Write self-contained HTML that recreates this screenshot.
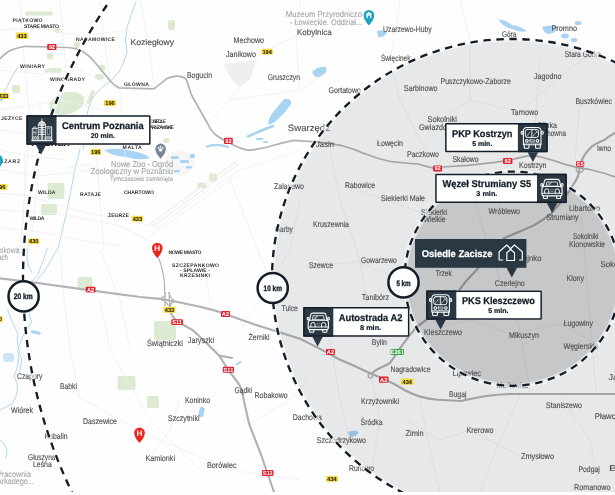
<!DOCTYPE html>
<html lang="pl"><head><meta charset="utf-8"><title>Mapa</title>
<style>html,body{margin:0;padding:0;background:#fff}body{width:615px;height:495px;overflow:hidden;font-family:"Liberation Sans",sans-serif}svg{display:block;will-change:transform;transform:translateZ(0)}text{text-rendering:geometricPrecision}text{font-family:"Liberation Sans",sans-serif}</style>
</head><body>
<svg width="615" height="495" viewBox="0 0 615 495">
<rect width="615" height="495" fill="#fefefe"/>
<g fill="#dcead1">
<rect x="47.5" y="183" width="17" height="16" rx="2"/>
<rect x="41" y="204" width="16" height="11" rx="2"/>
<rect x="77.5" y="277" width="15" height="12" rx="2"/>
<rect x="154" y="321" width="22" height="19" rx="2"/>
<rect x="117.5" y="376" width="18" height="14" rx="2"/>
<rect x="168" y="20" width="7" height="10" rx="2"/>
<rect x="209" y="173.6" width="8" height="7.8" rx="2"/>
<rect x="197.3" y="182.8" width="9.2" height="5.2" rx="2"/>
<rect x="163" y="138" width="6.5" height="5" rx="2"/>
<rect x="94.8" y="74" width="9" height="5.4" rx="2"/>
<rect x="98.4" y="65" width="7" height="5.4" rx="2"/>
<rect x="25" y="11.5" width="28" height="4" rx="2"/>
<rect x="55" y="27" width="5" height="6" rx="2"/>
<rect x="47" y="53" width="6" height="6.5" rx="2"/>
<rect x="74" y="42" width="6" height="6" rx="2"/>
<rect x="50" y="68" width="12" height="5" rx="2"/>
<rect x="12" y="85" width="8" height="8" rx="2"/>
<rect x="147" y="396" width="12" height="12" rx="2"/>
<path d="M49.2 102.6 L59 93.7 Q67 91 75.1 91.9 Q81 93 84 97.2 Q85 102 82.3 106.2 Q78 111 71.5 113.3 Q65 115.5 59 115 Q53 114 50 111.5Z"/>
<path d="M86 103 L92 90 L95 91 L90 104.5Z"/><path d="M44.7 70 Q52 66.5 60.8 70.5 L60 73 Q52 69.5 45 73Z"/>
</g>
<polygon points="223,64 256,60 250,80 240,87 232,80" fill="#efefef"/>
<path d="M166 158 Q170 150 182 150 Q194 152 195 162 Q193 174 180 176 Q168 174 166 158Z" fill="#f5f5f5"/>
<path d="M150 224 L237 160.8 M152 227 L240 163" fill="none" stroke="#e9e9e9" stroke-width="1"/>
<g fill="#a9d3f2">
<path d="M104 150 Q118 147 132 151 Q145 153 150 158 Q140 161 126 157 Q112 156 104 150Z"/>
<path d="M284 99 Q292 98 291 104 Q286 112 279 118 Q273 125 268 124 Q269 116 275 110 Q280 104 284 99Z"/>
<path d="M498 19 Q506 20 512 25 Q520 26 527 31 Q520 33 512 29 Q503 27 498 19Z"/>
<path d="M542 27 Q550 24 558 27 Q556 33 549 34 Q544 34 542 27Z"/>
<ellipse cx="565" cy="36" rx="4" ry="2.5"/><ellipse cx="574" cy="40" rx="3.5" ry="2"/><ellipse cx="578" cy="23" rx="3.5" ry="2"/>
<path d="M377 31 Q383 29 387 33 Q384 38 378 37Z"/>
<path d="M312 72 Q318 66 326 67 Q328 72 322 76 Q315 80 312 72Z"/>
<rect x="199" y="407" width="5" height="10" rx="1.5" transform="rotate(12 201 412)"/>
<rect x="31" y="331" width="10" height="3" rx="1.5" transform="rotate(12 36 332)"/><rect x="3" y="353" width="11" height="9" rx="3" fill-opacity="0.6"/>
<path d="M347 433 Q352 429 359 432 Q357 437 350 437Z"/>
<path d="M235 365 Q238 361 241.7 361 Q240 365.5 235 365Z"/>
<path d="M273 126 Q262 130 248 136.5" fill="none" stroke="#a9d3f2" stroke-width="2.6" stroke-linecap="round"/><path d="M207 146.5 Q216 143 228 147" fill="none" stroke="#a9d3f2" stroke-width="2.2" stroke-linecap="round"/>
<rect x="171" y="156" width="8" height="3" rx="1.3"/>
<rect x="180" y="160" width="9" height="3" rx="1.3"/>
<rect x="186" y="166" width="6" height="2.5" rx="1.3"/>
<rect x="174" y="170" width="6" height="2.5" rx="1.3"/>
<rect x="190" y="154" width="5" height="4" rx="1.3"/>
<rect x="256" y="138" width="7" height="2" rx="1.3"/>
<rect x="263" y="141" width="5" height="2" rx="1.3"/>
<rect x="0" y="95" width="3" height="6" rx="1.3"/>
</g>
<g fill="none" stroke="#a9d3f2" stroke-width="0.9" stroke-linecap="round">
<path d="M136 2 Q131 14 127 28 Q124 40 127 52 Q124 64 119 72 Q114 78 110 81 Q100 88 93 97 Q88 106 87 115 L85 130 L83.3 149"/>
<path d="M80 149 Q74 170 70 195 Q64 225 58 248 Q50 262 44 272 Q34 282 30 296 Q26 310 32 322 Q22 334 18 350 Q20 364 14 376 Q22 390 12 404 L0 410"/>
<path d="M0 440 Q10 448 6 458"/>
<path d="M27.5 248 Q25 262 32 273 M47.5 248 Q43 262 37.5 275 Q34 280 31 282"/>
<path d="M7.5 310 Q12 322 17.5 333 Q16 345 22 360 Q20 368 20 372"/>
</g>
<g fill="none" stroke="#efefef" stroke-width="0.8">
<path d="M0 110 L60 100 L110 112"/>
<path d="M20 0 L24 60 L30 120 L26 180 L20 250"/>
<path d="M60 0 L66 70 L60 120"/>
<path d="M0 170 L40 176 L90 170 L150 178"/>
<path d="M0 210 L60 214 L120 226 L160 246"/>
<path d="M154 230 L200 196 L240 170 L300 150"/>
<path d="M150 236 L196 204 L236 176"/>
<path d="M207 124 L230 100 L262 52 L300 34 L330 20"/>
<path d="M230 100 L300 90 L330 70"/>
<path d="M160 250 L166 290"/>
<path d="M100 300 L110 350 L150 420 L200 470"/>
<path d="M60 386 L120 420 L160 440 L230 470 L300 480"/>
<path d="M180 400 L170 430 L150 458"/>
<path d="M249 424 L290 400 L308 380"/>
<path d="M240 330 L260 300 L290 250 L300 200"/>
<path d="M330 150 L340 200 L360 260 L372 340"/>
<path d="M390 60 L400 100 L420 140 L440 165"/>
<path d="M440 120 L470 100 L520 112 L560 76 L590 54"/>
<path d="M540 60 L536 110 L533 165"/>
<path d="M580 100 L575 160"/>
<path d="M470 172 L480 220 L500 280 L520 330 L530 392"/>
<path d="M430 330 L470 320 L510 334 L560 324 L600 346"/>
<path d="M580 200 L585 260 L590 320 L596 392"/>
<path d="M520 395 L500 440 L480 492"/>
<path d="M560 396 L590 440 L600 492"/>
<path d="M370 370 L380 420 L372 468"/>
<path d="M405 420 L440 440 L470 430 L520 456"/>
<path d="M310 265 L360 262 L400 280"/>
<path d="M0 193.4 L26 195 L52.5 203.5 L85 212.6 L120 218.7 L160 228"/>
<path d="M66.7 168 L90 164 L120 180"/>
<path d="M25 150 L24 200 L22 250"/>
<path d="M40 100 L40 150 L36 200 L30 250"/>
<path d="M0 130 L30 134 L60 128 L100 134"/>
<path d="M0 150 L30 156 L66 160"/>
<path d="M90 100 L96 150 L100 200 L104 250"/>
<path d="M120 90 L124 140 L128 200"/>
<path d="M0 70 L40 74 L80 70 L120 90"/>
<path d="M0 30 L40 28 L80 36 L130 30"/>
<path d="M100 0 L104 40 L110 80"/>
<path d="M140 0 L150 50 L154 88"/>
<path d="M0 228 L40 232 L80 240 L120 246"/>
<path d="M60 250 L64 300 L70 350 L80 400"/>
<path d="M100 250 L120 300 L130 350"/>
<path d="M200 250 L210 300 L216 310"/>
<path d="M230 180 L250 230 L270 280"/>
<path d="M300 0 L296 40 L300 90"/>
<path d="M400 0 L396 30 L390 60"/>
<path d="M460 0 L470 40 L470 100"/>
<path d="M330 340 L340 400 L350 440"/>
<path d="M420 400 L430 450 L440 492"/>
<path d="M345 186 L380 198 L420 212"/>
<path d="M20 300 L18 340 L30 372"/>
</g>
<path d="M18 66.8 Q12 76 7 86.5 L2 96" fill="none" stroke="#d6d6d6" stroke-width="1.2"/>
<g fill="none" stroke="#b2b2b2" stroke-width="2.15" stroke-linejoin="round" stroke-linecap="round">
<path stroke-width="1.7" d="M0 58.8 Q8 50 15 48.8 L25 46.3 L67.5 47.5 Q77 48 82.5 51.3 Q90 56 95 62.5 L107.5 77.5 Q113 85 119 87.8 L154 88.8 L166.5 78.8 Q173 75.5 179 76.3 Q185 77 186.5 80 L191.5 95 L207.8 124 Q211 131 216 135 Q222 139.5 229 142.8 Q240 149 249 150.3 Q262 149 274 145.3 Q284 142 294 140.3 L316 141.8 Q330 143 340.5 145.3 Q354 149 365.5 154 Q378 159 390.5 161.5 Q405 163 418 164 Q426 166.5 433 168 L442 167 L467.6 165.4 L495 162.4 L512.6 159.5 Q519 157.5 524.3 156.6 Q528 155.6 532 155.6 Q537 155.8 541.8 157.2 L553.5 160.5 L565.2 164.4 L577 167.3 L588.7 169.3 L604.3 173.2 L615 177"/>
<path d="M0 278.3 L37.5 283 L85 289.6 L140 297 L160 298.9 L174 301.2 L200 306.8 L216.5 310.9 L254 324.3 L300 338.8 L315.6 346.6 L327 352.6 L339 359.3 L354.6 366.1 L366.3 371.4 L378 376.4 L393.7 383.7 L405.4 390.5 Q413 394.5 420 396.6 Q429 399 438 399.8 L461 401 Q474 398 486 396 Q498 394.4 511 394 L615 394"/>
<path d="M169.8 305.3 L171.3 314.3 L177 322 L183.4 325 L192.5 330 L204 340.5 L219 355.5 L229 371 Q237 381 240 386 Q243 393 244 401 L249 423.5 L261.5 456 L274 492"/>
<path d="M219 355.5 L232 358"/>
<path d="M615 133 Q609 136 604.3 140 Q598 142.5 592.6 145.9 Q588 150 584.8 154.6 Q582 159 580.9 163.4 L579.5 169.3 L578 176 Q576 181 573 185 L569.4 190.9 L560.3 203 L551.2 213.6 Q542 221 533.7 225.4 Q526 229 518 232.2 L504.4 238 Q490 252 478 268.3 L465.4 282 L459.5 289.8"/>
<path d="M372 373.6 Q375 370.5 378 369 L389.8 363.2 Q394 358 397.6 351.5 L403.4 343.7 L409.3 335.9 L416 327.7 Q428 318 440 310 Q452 300 459.5 289.8"/>
<path d="M164.7 292 L164.2 280 Q162 266 158.5 258" stroke-width="1.1"/>
</g>
<g fill="none" stroke="#b2b2b2" stroke-width="1.3">
<path d="M161.2 298.4 Q165 296.4 165.6 292 M168.6 292 Q169.5 297.4 174.6 300.8 M161.2 299.6 Q166.4 301.2 168.2 305.4 M174.6 301.6 Q171 302.2 170.2 305.4 M165 292 V306 M169 292 L169.8 306"/>
<circle cx="579.7" cy="169.3" r="3.4"/>
<circle cx="370.4" cy="375.6" r="2.3"/>
</g>
<circle cx="512.0" cy="279.0" r="240.0" fill="#1b2430" fill-opacity="0.101"/>
<ellipse cx="512.5" cy="278.7" rx="108" ry="107.1" fill="#1b2430" fill-opacity="0.167"/>
<rect x="15.8" y="32.5" width="12.2" height="6.5" rx="1" fill="#f7d93c"/>
<text x="21.9" y="37.80" font-size="5.7" font-weight="700" fill="#151515" text-anchor="middle">433</text>
<rect x="47.2" y="43.9" width="9.2" height="6" rx="1" fill="#e0202d"/>
<text x="51.800000000000004" y="48.95" font-size="5.7" font-weight="700" fill="#fff" text-anchor="middle">92</text>
<rect x="104" y="100" width="12" height="6" rx="1" fill="#f7d93c"/>
<text x="110.0" y="105.05" font-size="5.7" font-weight="700" fill="#151515" text-anchor="middle">196</text>
<rect x="-2" y="93" width="11" height="6" rx="1" fill="#f7d93c"/>
<text x="3.5" y="98.05" font-size="5.7" font-weight="700" fill="#151515" text-anchor="middle">433</text>
<rect x="261.5" y="48.8" width="11.3" height="5.8" rx="1" fill="#f7d93c"/>
<text x="267.15" y="53.75" font-size="5.7" font-weight="700" fill="#151515" text-anchor="middle">194</text>
<rect x="90.5" y="149" width="10.5" height="6" rx="1" fill="#f7d93c"/>
<text x="95.75" y="154.05" font-size="5.7" font-weight="700" fill="#151515" text-anchor="middle">196</text>
<rect x="-3" y="184" width="10.5" height="5.8" rx="1" fill="#f7d93c"/>
<text x="2.25" y="188.95" font-size="5.7" font-weight="700" fill="#151515" text-anchor="middle">96</text>
<rect x="131.8" y="215.8" width="11.3" height="5.8" rx="1" fill="#f7d93c"/>
<text x="137.45000000000002" y="220.75" font-size="5.7" font-weight="700" fill="#151515" text-anchor="middle">433</text>
<rect x="28" y="238.5" width="11.5" height="5.6" rx="1" fill="#f7d93c"/>
<text x="33.75" y="243.35" font-size="5.7" font-weight="700" fill="#151515" text-anchor="middle">430</text>
<rect x="224" y="137.8" width="8.8" height="6.2" rx="1" fill="#e0202d"/>
<text x="228.4" y="142.95" font-size="5.7" font-weight="700" fill="#fff" text-anchor="middle">92</text>
<rect x="433.1" y="165.4" width="9" height="6" rx="1" fill="#e0202d"/>
<text x="437.6" y="170.45" font-size="5.7" font-weight="700" fill="#fff" text-anchor="middle">92</text>
<rect x="503" y="158" width="9.4" height="5.9" rx="1" fill="#e0202d"/>
<text x="507.7" y="163.00" font-size="5.7" font-weight="700" fill="#fff" text-anchor="middle">92</text>
<rect x="576" y="161.2" width="8.2" height="5.6" rx="1" fill="#e0202d"/>
<text x="580.1" y="166.05" font-size="5.7" font-weight="700" fill="#fff" text-anchor="middle">S5</text>
<rect x="85.8" y="286.8" width="9.7" height="5.8" rx="1" fill="#e0202d"/>
<text x="90.64999999999999" y="291.75" font-size="5.7" font-weight="700" fill="#fff" text-anchor="middle">A2</text>
<rect x="-8" y="316" width="10.5" height="6.5" rx="1" fill="#f7d93c"/>
<text x="-2.75" y="321.30" font-size="5.7" font-weight="700" fill="#151515" text-anchor="middle">430</text>
<rect x="163.4" y="306.8" width="12.2" height="6" rx="1" fill="#f7d93c"/>
<text x="169.5" y="311.85" font-size="5.7" font-weight="700" fill="#151515" text-anchor="middle">433</text>
<rect x="171.3" y="319.2" width="11.6" height="5.8" rx="1" fill="#e0202d"/>
<text x="177.10000000000002" y="324.15" font-size="5.7" font-weight="700" fill="#fff" text-anchor="middle">S11</text>
<rect x="221" y="311" width="9" height="6" rx="1" fill="#e0202d"/>
<text x="225.5" y="316.05" font-size="5.7" font-weight="700" fill="#fff" text-anchor="middle">A2</text>
<rect x="222.8" y="366.8" width="11.2" height="6" rx="1" fill="#e0202d"/>
<text x="228.4" y="371.85" font-size="5.7" font-weight="700" fill="#fff" text-anchor="middle">S11</text>
<rect x="326" y="349" width="9" height="6" rx="1" fill="#e0202d"/>
<text x="330.5" y="354.05" font-size="5.7" font-weight="700" fill="#fff" text-anchor="middle">A2</text>
<rect x="390.5" y="349" width="13.5" height="6" rx="1" fill="#3da342"/>
<text x="397.25" y="354.05" font-size="5.7" font-weight="700" fill="#fff" text-anchor="middle">E261</text>
<rect x="379" y="376.5" width="9.5" height="6.3" rx="1" fill="#e0202d"/>
<text x="383.75" y="381.70" font-size="5.7" font-weight="700" fill="#fff" text-anchor="middle">A2</text>
<rect x="401" y="378.5" width="12.5" height="6.3" rx="1" fill="#f7d93c"/>
<text x="407.25" y="383.70" font-size="5.7" font-weight="700" fill="#151515" text-anchor="middle">434</text>
<rect x="326" y="476" width="12" height="5.8" rx="1" fill="#f7d93c"/>
<text x="332.0" y="480.95" font-size="5.7" font-weight="700" fill="#151515" text-anchor="middle">434</text>
<rect x="262" y="470" width="11.5" height="6" rx="1" fill="#e0202d"/>
<text x="267.75" y="475.05" font-size="5.7" font-weight="700" fill="#fff" text-anchor="middle">S11</text>
<g>
<text x="130.5" y="45.4" font-size="8.3" fill="#4c4c4c" font-weight="400" stroke="#4c4c4c" stroke-width="0.12" textLength="43.5" lengthAdjust="spacingAndGlyphs">Koziegłowy</text>
<text x="233.5" y="43.4" font-size="8.3" fill="#4c4c4c" font-weight="400" stroke="#4c4c4c" stroke-width="0.12" textLength="30.5" lengthAdjust="spacingAndGlyphs">Mechowo</text>
<text x="226" y="57.4" font-size="8.3" fill="#4c4c4c" font-weight="400" stroke="#4c4c4c" stroke-width="0.12" textLength="30.0" lengthAdjust="spacingAndGlyphs">Janikowo</text>
<text x="187" y="77.9" font-size="8.3" fill="#4c4c4c" font-weight="400" stroke="#4c4c4c" stroke-width="0.12" textLength="25.0" lengthAdjust="spacingAndGlyphs">Bogucin</text>
<text x="267.8" y="80.4" font-size="8.3" fill="#4c4c4c" font-weight="400" stroke="#4c4c4c" stroke-width="0.12" textLength="32.2" lengthAdjust="spacingAndGlyphs">Gruszczyn</text>
<text x="297" y="34.9" font-size="8.3" fill="#4c4c4c" font-weight="400" stroke="#4c4c4c" stroke-width="0.12" textLength="34.8" lengthAdjust="spacingAndGlyphs">Kobylnica</text>
<text x="383" y="32.4" font-size="8.3" fill="#4c4c4c" font-weight="400" stroke="#4c4c4c" stroke-width="0.12" textLength="48.8" lengthAdjust="spacingAndGlyphs">Uzarzewo-Huby</text>
<text x="381" y="60.9" font-size="8.3" fill="#4c4c4c" font-weight="400" stroke="#4c4c4c" stroke-width="0.12" textLength="29.5" lengthAdjust="spacingAndGlyphs">Święcinek</text>
<text x="328.5" y="92.9" font-size="8.3" fill="#4c4c4c" font-weight="400" stroke="#4c4c4c" stroke-width="0.12" textLength="32.5" lengthAdjust="spacingAndGlyphs">Gortatowo</text>
<text x="404" y="90.9" font-size="8.3" fill="#4c4c4c" font-weight="400" stroke="#4c4c4c" stroke-width="0.12" textLength="33.5" lengthAdjust="spacingAndGlyphs">Sarbinowo</text>
<text x="440.5" y="83.9" font-size="8.3" fill="#4c4c4c" font-weight="400" stroke="#4c4c4c" stroke-width="0.12" textLength="70.5" lengthAdjust="spacingAndGlyphs">Puszczykowo-Zaborze</text>
<text x="427.5" y="122.4" font-size="8.3" fill="#4c4c4c" font-weight="400" stroke="#4c4c4c" stroke-width="0.12" textLength="29.3" lengthAdjust="spacingAndGlyphs">Sokolniki</text>
<text x="419" y="129.9" font-size="8.3" fill="#4c4c4c" font-weight="400" stroke="#4c4c4c" stroke-width="0.12" textLength="46.0" lengthAdjust="spacingAndGlyphs">Gwiazdowskie</text>
<text x="502" y="37.4" font-size="8.3" fill="#4c4c4c" font-weight="400" stroke="#4c4c4c" stroke-width="0.12" textLength="14.5" lengthAdjust="spacingAndGlyphs">Góra</text>
<text x="551.5" y="30.9" font-size="8.3" fill="#4c4c4c" font-weight="400" stroke="#4c4c4c" stroke-width="0.12" textLength="25.5" lengthAdjust="spacingAndGlyphs">Promno</text>
<text x="564.8" y="56.7" font-size="8.3" fill="#4c4c4c" font-weight="400" stroke="#4c4c4c" stroke-width="0.12" textLength="36.2" lengthAdjust="spacingAndGlyphs">Stara Górka</text>
<text x="534" y="78.9" font-size="8.3" fill="#4c4c4c" font-weight="400" stroke="#4c4c4c" stroke-width="0.12" textLength="27.5" lengthAdjust="spacingAndGlyphs">Jagodno</text>
<text x="575.5" y="103.9" font-size="8.3" fill="#4c4c4c" font-weight="400" stroke="#4c4c4c" stroke-width="0.12" textLength="36.5" lengthAdjust="spacingAndGlyphs">Buszkówiec</text>
<text x="511" y="114.9" font-size="8.3" fill="#4c4c4c" font-weight="400" stroke="#4c4c4c" stroke-width="0.12" textLength="27.4" lengthAdjust="spacingAndGlyphs">Tarnowo</text>
<text x="274" y="188.9" font-size="8.3" fill="#4c4c4c" font-weight="400" stroke="#4c4c4c" stroke-width="0.12" textLength="30.0" lengthAdjust="spacingAndGlyphs">Zalasewo</text>
<text x="275" y="231.9" font-size="8.3" fill="#4c4c4c" font-weight="400" stroke="#4c4c4c" stroke-width="0.12" textLength="17.8" lengthAdjust="spacingAndGlyphs">Garby</text>
<text x="316" y="147.4" font-size="8.3" fill="#4c4c4c" font-weight="400" stroke="#4c4c4c" stroke-width="0.12" textLength="18.0" lengthAdjust="spacingAndGlyphs">Jasin</text>
<text x="377" y="145.7" font-size="8.3" fill="#4c4c4c" font-weight="400" stroke="#4c4c4c" stroke-width="0.12" textLength="26.0" lengthAdjust="spacingAndGlyphs">Łowęcin</text>
<text x="407" y="156.9" font-size="8.3" fill="#4c4c4c" font-weight="400" stroke="#4c4c4c" stroke-width="0.12" textLength="32.0" lengthAdjust="spacingAndGlyphs">Paczkowo</text>
<text x="345" y="187.9" font-size="8.3" fill="#4c4c4c" font-weight="400" stroke="#4c4c4c" stroke-width="0.12" textLength="30.0" lengthAdjust="spacingAndGlyphs">Rabowice</text>
<text x="381" y="201.4" font-size="8.3" fill="#4c4c4c" font-weight="400" stroke="#4c4c4c" stroke-width="0.12" textLength="44.0" lengthAdjust="spacingAndGlyphs">Siekierki Małe</text>
<text x="421" y="214.9" font-size="8.3" fill="#4c4c4c" font-weight="400" stroke="#4c4c4c" stroke-width="0.12" textLength="26.0" lengthAdjust="spacingAndGlyphs">Siekierki</text>
<text x="423.5" y="221.9" font-size="8.3" fill="#4c4c4c" font-weight="400" stroke="#4c4c4c" stroke-width="0.12" textLength="22.0" lengthAdjust="spacingAndGlyphs">Wielkie</text>
<text x="313" y="227.4" font-size="8.3" fill="#4c4c4c" font-weight="400" stroke="#4c4c4c" stroke-width="0.12" textLength="36.0" lengthAdjust="spacingAndGlyphs">Kruszewnia</text>
<text x="452.5" y="162.4" font-size="8.3" fill="#4c4c4c" font-weight="400" stroke="#4c4c4c" stroke-width="0.12" textLength="26.0" lengthAdjust="spacingAndGlyphs">Skałowo</text>
<text x="519" y="167.9" font-size="8.3" fill="#4c4c4c" font-weight="400" stroke="#4c4c4c" stroke-width="0.12" textLength="27.5" lengthAdjust="spacingAndGlyphs">Kostrzyn</text>
<text x="597" y="151.4" font-size="8.3" fill="#4c4c4c" font-weight="400" stroke="#4c4c4c" stroke-width="0.12" textLength="14.0" lengthAdjust="spacingAndGlyphs">Iwno</text>
<text x="537" y="127.9" font-size="8.3" fill="#4c4c4c" font-weight="400" stroke="#4c4c4c" stroke-width="0.12" textLength="20.0" lengthAdjust="spacingAndGlyphs">Glinka</text>
<text x="536" y="136.4" font-size="8.3" fill="#4c4c4c" font-weight="400" stroke="#4c4c4c" stroke-width="0.12" textLength="30.0" lengthAdjust="spacingAndGlyphs">Duchowna</text>
<text x="488.5" y="214.4" font-size="8.3" fill="#4c4c4c" font-weight="400" stroke="#4c4c4c" stroke-width="0.12" textLength="31.5" lengthAdjust="spacingAndGlyphs">Wróblewo</text>
<text x="569" y="210.9" font-size="8.3" fill="#4c4c4c" font-weight="400" stroke="#4c4c4c" stroke-width="0.12" textLength="31.0" lengthAdjust="spacingAndGlyphs">Libartowo</text>
<text x="546.5" y="219.9" font-size="8.3" fill="#4c4c4c" font-weight="400" stroke="#4c4c4c" stroke-width="0.12" textLength="32.0" lengthAdjust="spacingAndGlyphs">Strumiany</text>
<text x="573" y="239.4" font-size="8.3" fill="#4c4c4c" font-weight="400" stroke="#4c4c4c" stroke-width="0.12" textLength="25.5" lengthAdjust="spacingAndGlyphs">Sokolniki</text>
<text x="569" y="246.9" font-size="8.3" fill="#4c4c4c" font-weight="400" stroke="#4c4c4c" stroke-width="0.12" textLength="36.0" lengthAdjust="spacingAndGlyphs">Klonowskie</text>
<text x="281.5" y="310.9" font-size="8.3" fill="#4c4c4c" font-weight="400" stroke="#4c4c4c" stroke-width="0.12" textLength="16.3" lengthAdjust="spacingAndGlyphs">Tulce</text>
<text x="248.5" y="340.4" font-size="8.3" fill="#4c4c4c" font-weight="400" stroke="#4c4c4c" stroke-width="0.12" textLength="21.0" lengthAdjust="spacingAndGlyphs">Żerniki</text>
<text x="187.8" y="343.4" font-size="8.3" fill="#4c4c4c" font-weight="400" stroke="#4c4c4c" stroke-width="0.12" textLength="26.2" lengthAdjust="spacingAndGlyphs">Jaryszki</text>
<text x="147" y="346.4" font-size="8.3" fill="#4c4c4c" font-weight="400" stroke="#4c4c4c" stroke-width="0.12" textLength="35.8" lengthAdjust="spacingAndGlyphs">Świątniczki</text>
<text x="309" y="268.4" font-size="8.3" fill="#4c4c4c" font-weight="400" stroke="#4c4c4c" stroke-width="0.12" textLength="24.0" lengthAdjust="spacingAndGlyphs">Szewce</text>
<text x="361" y="262.9" font-size="8.3" fill="#4c4c4c" font-weight="400" stroke="#4c4c4c" stroke-width="0.12" textLength="35.8" lengthAdjust="spacingAndGlyphs">Gowarzewo</text>
<text x="361.8" y="300.4" font-size="8.3" fill="#4c4c4c" font-weight="400" stroke="#4c4c4c" stroke-width="0.12" textLength="27.2" lengthAdjust="spacingAndGlyphs">Tanibórz</text>
<text x="435.5" y="275.9" font-size="8.3" fill="#4c4c4c" font-weight="400" stroke="#4c4c4c" stroke-width="0.12" textLength="16.3" lengthAdjust="spacingAndGlyphs">Trzek</text>
<text x="371.8" y="344.7" font-size="8.3" fill="#4c4c4c" font-weight="400" stroke="#4c4c4c" stroke-width="0.12" textLength="15.0" lengthAdjust="spacingAndGlyphs">Bylin</text>
<text x="424" y="335.4" font-size="8.3" fill="#4c4c4c" font-weight="400" stroke="#4c4c4c" stroke-width="0.12" textLength="38.0" lengthAdjust="spacingAndGlyphs">Kleszczewo</text>
<text x="390.5" y="371.7" font-size="8.3" fill="#4c4c4c" font-weight="400" stroke="#4c4c4c" stroke-width="0.12" textLength="40.0" lengthAdjust="spacingAndGlyphs">Nagradowice</text>
<text x="494.8" y="286.4" font-size="8.3" fill="#4c4c4c" font-weight="400" stroke="#4c4c4c" stroke-width="0.12" textLength="30.0" lengthAdjust="spacingAndGlyphs">Czerlejno</text>
<text x="505" y="260.9" font-size="8.3" fill="#4c4c4c" font-weight="400" stroke="#4c4c4c" stroke-width="0.12" textLength="36.5" lengthAdjust="spacingAndGlyphs">Czerlejnko</text>
<text x="566.5" y="281.4" font-size="8.3" fill="#4c4c4c" font-weight="400" stroke="#4c4c4c" stroke-width="0.12" textLength="17.5" lengthAdjust="spacingAndGlyphs">Klony</text>
<text x="600.5" y="266.9" font-size="8.3" fill="#4c4c4c" font-weight="400" stroke="#4c4c4c" stroke-width="0.12" textLength="31.5" lengthAdjust="spacingAndGlyphs">Sokolniki</text>
<text x="563.5" y="325.9" font-size="8.3" fill="#4c4c4c" font-weight="400" stroke="#4c4c4c" stroke-width="0.12" textLength="29.5" lengthAdjust="spacingAndGlyphs">Ługowiny</text>
<text x="509" y="337.7" font-size="8.3" fill="#4c4c4c" font-weight="400" stroke="#4c4c4c" stroke-width="0.12" textLength="30.0" lengthAdjust="spacingAndGlyphs">Mikuszyn</text>
<text x="563.5" y="348.9" font-size="8.3" fill="#4c4c4c" font-weight="400" stroke="#4c4c4c" stroke-width="0.12" textLength="35.0" lengthAdjust="spacingAndGlyphs">Węgierskie</text>
<text x="17" y="379.4" font-size="8.3" fill="#4c4c4c" font-weight="400" stroke="#4c4c4c" stroke-width="0.12" textLength="25.5" lengthAdjust="spacingAndGlyphs">Czapury</text>
<text x="60" y="389.4" font-size="8.3" fill="#4c4c4c" font-weight="400" stroke="#4c4c4c" stroke-width="0.12" textLength="17.0" lengthAdjust="spacingAndGlyphs">Babki</text>
<text x="11" y="412.9" font-size="8.3" fill="#4c4c4c" font-weight="400" stroke="#4c4c4c" stroke-width="0.12" textLength="22.0" lengthAdjust="spacingAndGlyphs">Wiórek</text>
<text x="83" y="423.9" font-size="8.3" fill="#4c4c4c" font-weight="400" stroke="#4c4c4c" stroke-width="0.12" textLength="34.0" lengthAdjust="spacingAndGlyphs">Daszewice</text>
<text x="44.5" y="439.4" font-size="8.3" fill="#4c4c4c" font-weight="400" stroke="#4c4c4c" stroke-width="0.12" textLength="23.0" lengthAdjust="spacingAndGlyphs">Kubalin</text>
<text x="28" y="459.9" font-size="8.3" fill="#4c4c4c" font-weight="400" stroke="#4c4c4c" stroke-width="0.12" textLength="27.5" lengthAdjust="spacingAndGlyphs">Głuszyna</text>
<text x="33" y="466.9" font-size="8.3" fill="#4c4c4c" font-weight="400" stroke="#4c4c4c" stroke-width="0.12" textLength="18.8" lengthAdjust="spacingAndGlyphs">Leśna</text>
<text x="145.5" y="460.9" font-size="8.3" fill="#4c4c4c" font-weight="400" stroke="#4c4c4c" stroke-width="0.12" textLength="29.5" lengthAdjust="spacingAndGlyphs">Kamionki</text>
<text x="234.5" y="392.7" font-size="8.3" fill="#4c4c4c" font-weight="400" stroke="#4c4c4c" stroke-width="0.12" textLength="17.5" lengthAdjust="spacingAndGlyphs">Gądki</text>
<text x="254.5" y="397.9" font-size="8.3" fill="#4c4c4c" font-weight="400" stroke="#4c4c4c" stroke-width="0.12" textLength="33.3" lengthAdjust="spacingAndGlyphs">Robakowo</text>
<text x="185" y="402.7" font-size="8.3" fill="#4c4c4c" font-weight="400" stroke="#4c4c4c" stroke-width="0.12" textLength="25.0" lengthAdjust="spacingAndGlyphs">Koninko</text>
<text x="168" y="420.7" font-size="8.3" fill="#4c4c4c" font-weight="400" stroke="#4c4c4c" stroke-width="0.12" textLength="31.5" lengthAdjust="spacingAndGlyphs">Szczytniki</text>
<text x="292.8" y="419.7" font-size="8.3" fill="#4c4c4c" font-weight="400" stroke="#4c4c4c" stroke-width="0.12" textLength="29.0" lengthAdjust="spacingAndGlyphs">Dachowa</text>
<text x="207" y="467.7" font-size="8.3" fill="#4c4c4c" font-weight="400" stroke="#4c4c4c" stroke-width="0.12" textLength="29.5" lengthAdjust="spacingAndGlyphs">Borówiec</text>
<text x="361" y="403.9" font-size="8.3" fill="#4c4c4c" font-weight="400" stroke="#4c4c4c" stroke-width="0.12" textLength="38.0" lengthAdjust="spacingAndGlyphs">Krzyżowniki</text>
<text x="360.5" y="424.9" font-size="8.3" fill="#4c4c4c" font-weight="400" stroke="#4c4c4c" stroke-width="0.12" textLength="22.0" lengthAdjust="spacingAndGlyphs">Śródka</text>
<text x="405.5" y="436.4" font-size="8.3" fill="#4c4c4c" font-weight="400" stroke="#4c4c4c" stroke-width="0.12" textLength="18.0" lengthAdjust="spacingAndGlyphs">Zimin</text>
<text x="316.8" y="442.7" font-size="8.3" fill="#4c4c4c" font-weight="400" stroke="#4c4c4c" stroke-width="0.12" textLength="49.2" lengthAdjust="spacingAndGlyphs">Szczodrzykowo</text>
<text x="349" y="470.9" font-size="8.3" fill="#4c4c4c" font-weight="400" stroke="#4c4c4c" stroke-width="0.12" textLength="25.0" lengthAdjust="spacingAndGlyphs">Runowo</text>
<text x="449" y="396.9" font-size="8.3" fill="#4c4c4c" font-weight="400" stroke="#4c4c4c" stroke-width="0.12" textLength="17.5" lengthAdjust="spacingAndGlyphs">Bugaj</text>
<text x="452.5" y="375.6" font-size="8.3" fill="#4c4c4c" font-weight="400" stroke="#4c4c4c" stroke-width="0.12" textLength="28.5" lengthAdjust="spacingAndGlyphs">Lipowiec</text>
<text x="497" y="387.9" font-size="8.3" fill="#4c4c4c" font-weight="400" stroke="#4c4c4c" stroke-width="0.12" textLength="31.5" lengthAdjust="spacingAndGlyphs">Markowice</text>
<text x="546" y="407.9" font-size="8.3" fill="#4c4c4c" font-weight="400" stroke="#4c4c4c" stroke-width="0.12" textLength="36.0" lengthAdjust="spacingAndGlyphs">Staniszewo</text>
<text x="594.8" y="418.9" font-size="8.3" fill="#4c4c4c" font-weight="400" stroke="#4c4c4c" stroke-width="0.12" textLength="25.2" lengthAdjust="spacingAndGlyphs">Pławce</text>
<text x="466.5" y="432.9" font-size="8.3" fill="#4c4c4c" font-weight="400" stroke="#4c4c4c" stroke-width="0.12" textLength="27.0" lengthAdjust="spacingAndGlyphs">Krerowo</text>
<text x="521" y="458.9" font-size="8.3" fill="#4c4c4c" font-weight="400" stroke="#4c4c4c" stroke-width="0.12" textLength="33.0" lengthAdjust="spacingAndGlyphs">Zmysłowo</text>
<text x="578.5" y="471.9" font-size="8.3" fill="#4c4c4c" font-weight="400" stroke="#4c4c4c" stroke-width="0.12" textLength="21.3" lengthAdjust="spacingAndGlyphs">Podgaj</text>
<text x="609" y="470.9" font-size="8.3" fill="#4c4c4c" font-weight="400" stroke="#4c4c4c" stroke-width="0.12" textLength="31.0" lengthAdjust="spacingAndGlyphs">Babin</text>
<text x="574" y="489.9" font-size="8.3" fill="#4c4c4c" font-weight="400" stroke="#4c4c4c" stroke-width="0.12" textLength="36.5" lengthAdjust="spacingAndGlyphs">Romanowo</text>
<text x="608.5" y="379.9" font-size="8.3" fill="#4c4c4c" font-weight="400" stroke="#4c4c4c" stroke-width="0.12" textLength="31.5" lengthAdjust="spacingAndGlyphs">Janowo</text>
<text x="287.8" y="130.8" font-size="9.3" fill="#4c4c4c" font-weight="400" stroke="#4c4c4c" stroke-width="0.12" textLength="42.2" lengthAdjust="spacingAndGlyphs">Swarzędz</text>
</g>
<g>
<text x="285.8" y="16.5" font-size="8.2" fill="#a3a7ab" font-weight="400" stroke="#a3a7ab" stroke-width="0.12" textLength="76.2" lengthAdjust="spacingAndGlyphs">Muzeum Przyrodniczo</text>
<text x="290" y="25" font-size="8.2" fill="#a3a7ab" font-weight="400" stroke="#a3a7ab" stroke-width="0.12" textLength="72.0" lengthAdjust="spacingAndGlyphs">- Łowieckie. Oddział...</text>
<text x="111" y="166.7" font-size="8.6" fill="#a3a7ab" font-weight="400" stroke="#a3a7ab" stroke-width="0.12" textLength="62.1" lengthAdjust="spacingAndGlyphs">Nowe Zoo - Ogród</text>
<text x="90.5" y="174.2" font-size="8.6" fill="#a3a7ab" font-weight="400" stroke="#a3a7ab" stroke-width="0.12" textLength="82.6" lengthAdjust="spacingAndGlyphs">Zoologiczny w Poznaniu</text>
<text x="110" y="180.5" font-size="6.6" fill="#a3a7ab" font-weight="400" stroke="#a3a7ab" stroke-width="0.12" textLength="63.0" lengthAdjust="spacingAndGlyphs">Tymczasowo zamknięte</text>
<text x="-10" y="252.8" font-size="8.2" fill="#a3a7ab" font-weight="400" stroke="#a3a7ab" stroke-width="0.12" textLength="29.5" lengthAdjust="spacingAndGlyphs">Piaskowa</text>
<text x="-12" y="260" font-size="8.2" fill="#a3a7ab" font-weight="400" stroke="#a3a7ab" stroke-width="0.12" textLength="20.0" lengthAdjust="spacingAndGlyphs">Górach</text>
<text x="-3" y="476.5" font-size="8.2" fill="#a3a7ab" font-weight="400" stroke="#a3a7ab" stroke-width="0.12" textLength="34.0" lengthAdjust="spacingAndGlyphs">Pracownia</text>
<text x="-3" y="483.8" font-size="8.2" fill="#a3a7ab" font-weight="400" stroke="#a3a7ab" stroke-width="0.12" textLength="36.8" lengthAdjust="spacingAndGlyphs">Arkadego...</text>
</g>
<text x="12.5" y="21.8" font-size="5.1" fill="#303030" font-weight="700" textLength="30.0" lengthAdjust="spacing">PIĄTKOWO</text>
<text x="24" y="28.3" font-size="5.1" fill="#303030" font-weight="700" textLength="35.0" lengthAdjust="spacing">STARE MIASTO</text>
<text x="76" y="40.5" font-size="5.1" fill="#303030" font-weight="700" textLength="39.0" lengthAdjust="spacing">NARAMOWICE</text>
<text x="20" y="67.8" font-size="5.1" fill="#303030" font-weight="700" textLength="25.0" lengthAdjust="spacing">WINIARY</text>
<text x="50" y="81.3" font-size="5.1" fill="#303030" font-weight="700" textLength="35.0" lengthAdjust="spacing">WINOGRADY</text>
<text x="124" y="86.3" font-size="5.1" fill="#303030" font-weight="700" textLength="25.0" lengthAdjust="spacing">GŁÓWNA</text>
<text x="1" y="119.8" font-size="5.1" fill="#303030" font-weight="700" textLength="21.5" lengthAdjust="spacing">JEŻYCE</text>
<text x="122.6" y="148.6" font-size="5.1" fill="#303030" font-weight="700" textLength="19.2" lengthAdjust="spacing">MALTA</text>
<text x="-4" y="162.8" font-size="5.1" fill="#303030" font-weight="700" textLength="24.0" lengthAdjust="spacing">ŁAZARZ</text>
<text x="38" y="193.8" font-size="5.1" fill="#303030" font-weight="700" textLength="17.5" lengthAdjust="spacing">WILDA</text>
<text x="80" y="196.3" font-size="5.1" fill="#303030" font-weight="700" textLength="21.0" lengthAdjust="spacing">RATAJE</text>
<text x="124" y="193.8" font-size="5.1" fill="#303030" font-weight="700" textLength="30.0" lengthAdjust="spacing">CHARTOWO</text>
<text x="108" y="216.8" font-size="5.1" fill="#303030" font-weight="700" textLength="20.8" lengthAdjust="spacing">ŻEGRZE</text>
<text x="29.5" y="219.8" font-size="5.1" fill="#303030" font-weight="700" textLength="15.0" lengthAdjust="spacing">WILDA</text>
<text x="168.5" y="254.3" font-size="5.1" fill="#303030" font-weight="700" textLength="33.0" lengthAdjust="spacing">NOWE MIASTO</text>
<text x="172" y="266.8" font-size="5.1" fill="#303030" font-weight="700" textLength="47.0" lengthAdjust="spacing">SZCZEPANKOWO</text>
<text x="180" y="272.1" font-size="5.1" fill="#303030" font-weight="700" textLength="30.0" lengthAdjust="spacing">- SPŁAWIE -</text>
<text x="180" y="277.3" font-size="5.1" fill="#303030" font-weight="700" textLength="30.0" lengthAdjust="spacing">KRZESINKI</text>
<text x="150" y="122.8" font-size="5.1" fill="#303030" font-weight="700" textLength="16.0" lengthAdjust="spacing">OSIEDLE</text>
<text x="146" y="128.8" font-size="5.1" fill="#303030" font-weight="700" textLength="28.0" lengthAdjust="spacing">WARSZAWSKIE</text>
<text x="31" y="146.3" font-size="11.5" font-weight="700" fill="#222" textLength="39" lengthAdjust="spacingAndGlyphs">Poznań</text>
<path d="M151.9 248.1 A5.4 5.4 0 1 1 162.70000000000002 248.1 Q162.43 252.69 157.3 258.09 Q152.17000000000002 252.69 151.9 248.1Z" fill="#e8281f"/>
<text x="157.3" y="250.91" font-size="8.10" font-weight="700" fill="#fff" text-anchor="middle">H</text>
<path d="M134.1 433 A5.4 5.4 0 1 1 144.9 433 Q144.63 437.59 139.5 442.99 Q134.37 437.59 134.1 433Z" fill="#e8281f"/>
<text x="139.5" y="435.81" font-size="8.10" font-weight="700" fill="#fff" text-anchor="middle">H</text>
<path d="M363.5 15.4 A5.4 5.4 0 1 1 374.29999999999995 15.4 Q374.03 19.990000000000002 368.9 25.39 Q363.77 19.990000000000002 363.5 15.4Z" fill="#1fa3c4"/>
<rect x="366.5" y="14.6" width="4.8" height="3.4" fill="#fff"/><path d="M365.4 14.8 L368.9 11.8 L372.4 14.8Z" fill="#fff"/><rect x="367.8" y="15.6" width="2.2" height="2.4" fill="#1fa3c4"/>
<path d="M155.29999999999998 148.9 A5.3 5.3 0 1 1 165.9 148.9 Q165.635 153.405 160.6 158.705 Q155.565 153.405 155.29999999999998 148.9Z" fill="#7b8794"/>
<circle cx="160.6" cy="149.9" r="1.7" fill="#fff"/><circle cx="158.5" cy="147.9" r="0.85" fill="#fff"/><circle cx="162.7" cy="147.9" r="0.85" fill="#fff"/><circle cx="160.6" cy="146.7" r="0.85" fill="#fff"/>
<path d="M-7.9 160 A5.4 5.4 0 1 1 2.9000000000000004 160 Q2.63 164.59 -2.5 169.99 Q-7.63 164.59 -7.9 160Z" fill="#1fa3c4"/>
<clipPath id="c20a"><rect x="0" y="4.6" width="615" height="291.4"/></clipPath>
<clipPath id="c20b"><rect x="0" y="296" width="615" height="196"/></clipPath>
<g clip-path="url(#c20a)">
<circle cx="512.0" cy="279.0" r="489.0" fill="none" stroke="#fff" stroke-opacity="0.55" stroke-width="4.75"/>
<circle cx="512.0" cy="279.0" r="489.0" fill="none" stroke="#131d28" stroke-width="2.35" stroke-dasharray="7.3 5.72" stroke-dashoffset="3.27"/>
</g>
<g clip-path="url(#c20b)">
<circle cx="512.0" cy="279.0" r="489.0" fill="none" stroke="#fff" stroke-opacity="0.55" stroke-width="4.75"/>
<circle cx="512.0" cy="279.0" r="489.0" fill="none" stroke="#131d28" stroke-width="2.35" stroke-dasharray="7.3 5.92" stroke-dashoffset="13.13"/>
</g>
<circle cx="512.0" cy="279.0" r="240.0" fill="none" stroke="#fff" stroke-opacity="0.55" stroke-width="4.75"/>
<circle cx="512.0" cy="279.0" r="240.0" fill="none" stroke="#131d28" stroke-width="2.35" stroke-dasharray="7.4 5.65" stroke-dashoffset="7.45"/>
<ellipse cx="512.5" cy="278.7" rx="108" ry="107.1" fill="none" stroke="#fff" stroke-opacity="0.55" stroke-width="4.7"/>
<ellipse cx="512.5" cy="278.7" rx="108" ry="107.1" fill="none" stroke="#131d28" stroke-width="2.3" stroke-dasharray="7.3 5.66" stroke-dashoffset="4.0"/>
<circle cx="23.6" cy="296.4" r="15.1" fill="#fff" stroke="#131d28" stroke-width="2.5"/>
<text x="13.7" y="299.4" font-size="7.9" font-weight="700" fill="#131d28" stroke="#131d28" stroke-width="0.35" textLength="18.9" lengthAdjust="spacingAndGlyphs">20 km</text>
<circle cx="272.7" cy="288.0" r="15.1" fill="#fff" stroke="#131d28" stroke-width="2.5"/>
<text x="263.6" y="291.4" font-size="7.9" font-weight="700" fill="#131d28" stroke="#131d28" stroke-width="0.35" textLength="18.3" lengthAdjust="spacingAndGlyphs">10 km</text>
<circle cx="403.5" cy="282.4" r="15.1" fill="#fff" stroke="#131d28" stroke-width="2.5"/>
<text x="396.4" y="285.5" font-size="7.9" font-weight="700" fill="#131d28" stroke="#131d28" stroke-width="0.35" textLength="14.3" lengthAdjust="spacingAndGlyphs">5 km</text>
<path d="M35.5 144.3 L46.5 144.3 L41.0 154.60000000000002Z" fill="#2a3843"/>
<rect x="26.4" y="115.2" width="124.2" height="29.6" rx="0.8" fill="#fff"/>
<rect x="26.4" y="115.2" width="30.1" height="29.6" fill="#2a3843"/>
<rect x="27.15" y="115.95" width="122.7" height="28.1" rx="0.5" fill="none" stroke="#131d28" stroke-width="1.5"/>
<text x="62.00" y="128.75" font-size="9.8" font-weight="700" fill="#131d28" stroke="#131d28" stroke-width="0.25" textLength="81.6" lengthAdjust="spacingAndGlyphs">Centrum Poznania</text>
<text x="90.70" y="137.70" font-size="7" font-weight="700" fill="#131d28" stroke="#131d28" stroke-width="0.2" textLength="24.2" lengthAdjust="spacingAndGlyphs">20 min.</text>
<g transform="translate(26.4,115.3)" fill="none" stroke="#fff" stroke-width="0.7" stroke-linejoin="round" stroke-linecap="round"><rect x="5" y="24.5" width="21.4" height="1.4" fill="#fff" fill-opacity="0.92" stroke="none"/><path d="M15.5 3.6 V6" stroke-width="0.8"/><path d="M12 9 Q12.2 6.6 15.5 5.8 Q18.8 6.6 19 9Z" fill="#fff" fill-opacity="0.8" stroke-width="0.5"/><path d="M11.9 24.4 V9 M19.1 24.4 V9" stroke-width="0.65"/><rect x="11.9" y="9.3" width="7.2" height="1.15" fill="#fff" fill-opacity="0.78" stroke="none"/><rect x="11.9" y="11.6" width="7.2" height="1.15" fill="#fff" fill-opacity="0.78" stroke="none"/><rect x="11.9" y="13.9" width="7.2" height="1.15" fill="#fff" fill-opacity="0.78" stroke="none"/><rect x="11.9" y="16.2" width="7.2" height="1.15" fill="#fff" fill-opacity="0.78" stroke="none"/><rect x="11.9" y="18.5" width="7.2" height="1.15" fill="#fff" fill-opacity="0.78" stroke="none"/><rect x="14.3" y="8.8" width="2.5" height="15.7" fill="#fff" fill-opacity="0.7" stroke="none"/><path d="M5.9 24.4 V13.2 H10.9 M6.6 13.2 L7.2 11.8 H9.6 L10.2 13.2" stroke-width="0.7"/><path d="M5.9 15 L10.9 19.6 M10.9 15 L5.9 19.6 M7.4 13.2 V20.4 M9.4 13.2 V20.4 M5.9 17.3 H10.9" stroke-width="0.5" stroke-opacity="0.7"/><path d="M19.7 11.6 H25.3 V24.4" stroke-width="0.95"/><rect x="21.2" y="13.1" width="2.3" height="6.4" stroke-width="0.6" stroke-opacity="0.9"/><path d="M5.9 24.2 L7.6 20.8 L9.3 24.2 L11 20.8 L11.9 22.6 M19.1 22.6 L20 20.8 L21.7 24.2 L23.4 20.8 L25.1 24.2" stroke-width="0.6" stroke-opacity="0.9"/><path d="M5.9 20.8 L7.6 24.2 L9.3 20.8 L11 24.2 L11.9 22.4 M19.1 22.4 L20 24.2 L21.7 20.8 L23.4 24.2 L25.1 20.8" stroke-width="0.6" stroke-opacity="0.9"/><path d="M12.6 24.2 L13.4 21 M18.4 24.2 L17.6 21" stroke-width="0.5" stroke-opacity="0.7"/></g>
<path d="M527.4 151.7 L538.4 151.7 L532.9 162.0Z" fill="#2a3843"/>
<rect x="445.1" y="123.1" width="102.6" height="29.1" rx="0.8" fill="#fff"/>
<rect x="517.9000000000001" y="123.1" width="29.8" height="29.1" fill="#2a3843"/>
<rect x="445.85" y="123.85" width="101.1" height="27.6" rx="0.5" fill="none" stroke="#131d28" stroke-width="1.5"/>
<text x="452.10" y="136.65" font-size="9.8" font-weight="700" fill="#131d28" stroke="#131d28" stroke-width="0.25" textLength="60.3" lengthAdjust="spacingAndGlyphs">PKP Kostrzyn</text>
<text x="472.15" y="145.60" font-size="7" font-weight="700" fill="#131d28" stroke="#131d28" stroke-width="0.2" textLength="20.2" lengthAdjust="spacingAndGlyphs">5 min.</text>
<g transform="translate(517.3,123.2)" fill="none" stroke="#fff" stroke-width="1.05" stroke-linejoin="round" stroke-linecap="round"><path d="M6.1 21.6 V8 Q6.1 4.2 9.9 4.2 H19.9 Q23.7 4.2 23.7 8 V21.6Z"/><rect x="8" y="6.2" width="13.2" height="8" rx="2.2" stroke-width="0.95"/><path d="M14.6 6.2 V14.2" stroke-width="0.9"/><path d="M9.4 13.2 L12.6 9 M15.8 12.8 L19.4 8.6 M18.2 7 L20.2 9.6" stroke-width="0.7" stroke-opacity="0.9"/><ellipse cx="4.7" cy="9.6" rx="0.9" ry="1.5"/><ellipse cx="25.1" cy="9.6" rx="0.9" ry="1.5"/><circle cx="9.6" cy="17.6" r="1.3"/><circle cx="20.2" cy="17.6" r="1.3"/><rect x="12.4" y="16.6" width="5" height="2" rx="0.4" stroke-width="0.75"/><path d="M6.2 20 H23.6" stroke-width="0.7" stroke-opacity="0.85"/><path d="M6.9 21.6 V24 Q6.9 25 7.9 25 H10.7 Q11.7 25 11.7 24 V21.6 M18.2 21.6 V24 Q18.2 25 19.2 25 H22 Q23 25 23 24 V21.6"/></g>
<path d="M546.6 202.6 L557.6 202.6 L552.1 212.9Z" fill="#2a3843"/>
<rect x="435.2" y="173.7" width="131.6" height="29.4" rx="0.8" fill="#fff"/>
<rect x="537.0" y="173.7" width="29.8" height="29.4" fill="#2a3843"/>
<rect x="435.95" y="174.45" width="130.1" height="27.9" rx="0.5" fill="none" stroke="#131d28" stroke-width="1.5"/>
<text x="442.45" y="187.25" font-size="9.8" font-weight="700" fill="#131d28" stroke="#131d28" stroke-width="0.25" textLength="88.8" lengthAdjust="spacingAndGlyphs">Węzeł Strumiany S5</text>
<text x="476.35" y="196.20" font-size="7" font-weight="700" fill="#131d28" stroke="#131d28" stroke-width="0.2" textLength="21" lengthAdjust="spacingAndGlyphs">3 min.</text>
<g transform="translate(536.9,173.9)" fill="none" stroke="#fff" stroke-width="1.1" stroke-linejoin="round" stroke-linecap="round"><path d="M6.4 12.6 L7.5 7.2 Q7.9 5.5 9.6 5.5 H20.6 Q22.3 5.5 22.7 7.2 L23.8 12.6"/><path d="M9.2 11.8 L9.9 8.1 H20.3 L21 11.8Z" stroke-width="0.8"/><path d="M10.6 11 L13.4 8.6 M12 11.2 L14.4 9.2" stroke-width="0.7" stroke-opacity="0.9"/><ellipse cx="4.9" cy="11" rx="0.9" ry="1.4"/><ellipse cx="25.3" cy="11" rx="0.9" ry="1.4"/><rect x="5" y="12.6" width="20.2" height="9.4" rx="2.2"/><path d="M7.7 19.2 V17 A2.1 2.1 0 0 1 11.9 17 V19.2 M18.3 19.2 V17 A2.1 2.1 0 0 1 22.5 17 V19.2" stroke-width="0.95"/><path d="M5.4 19.4 H24.8" stroke-width="0.95"/><path d="M13.4 15.6 H16.8 M13.4 17.4 H16.8" stroke-width="0.55" stroke-opacity="0.6"/><path d="M6.5 22 V23.8 Q6.5 24.6 7.3 24.6 H9.8 Q10.6 24.6 10.6 23.8 V22 M19.6 22 V23.8 Q19.6 24.6 20.4 24.6 H22.9 Q23.7 24.6 23.7 23.8 V22"/></g>
<path d="M506.3 267.3 L517.3 267.3 L511.8 277.6Z" fill="#2a3843"/>
<rect x="415" y="239" width="111.4" height="28.8" fill="#2a3843"/>
<text x="421.7" y="257.3" font-size="9.8" font-weight="700" fill="#fff" stroke="#fff" stroke-width="0.25" textLength="70.8" lengthAdjust="spacingAndGlyphs">Osiedle Zacisze</text>
<g transform="translate(499,239)" fill="none" stroke="#fff" stroke-width="1.15" stroke-linejoin="miter" stroke-linecap="butt"><path d="M4.2 21 H0.1 V12.8 L7.8 6.1 L12.4 10.5"/><path d="M10.5 10.5 L15.5 6.1 L23.3 12.8 V21 H20.1"/><path d="M7.8 21.5 V13.7 L11.7 10.5 L15.5 13.7 V21.5Z"/></g>
<path d="M435.1 319.2 L446.1 319.2 L440.6 329.5Z" fill="#2a3843"/>
<rect x="426.2" y="290.4" width="115.7" height="29.3" rx="0.8" fill="#fff"/>
<rect x="426.2" y="290.4" width="30.1" height="29.3" fill="#2a3843"/>
<rect x="426.95" y="291.15" width="114.2" height="27.8" rx="0.5" fill="none" stroke="#131d28" stroke-width="1.5"/>
<text x="461.90" y="303.95" font-size="9.8" font-weight="700" fill="#131d28" stroke="#131d28" stroke-width="0.25" textLength="72.9" lengthAdjust="spacingAndGlyphs">PKS Kleszczewo</text>
<text x="488.15" y="312.90" font-size="7" font-weight="700" fill="#131d28" stroke="#131d28" stroke-width="0.2" textLength="20.4" lengthAdjust="spacingAndGlyphs">5 min.</text>
<g transform="translate(425.7,290.5)" fill="none" stroke="#fff" stroke-width="1.05" stroke-linejoin="round" stroke-linecap="round"><path d="M6.1 21.6 V8 Q6.1 4.2 9.9 4.2 H19.9 Q23.7 4.2 23.7 8 V21.6Z"/><rect x="8" y="6.2" width="13.2" height="8" rx="2.2" stroke-width="0.95"/><path d="M14.6 6.2 V14.2" stroke-width="0.9"/><path d="M9.4 13.2 L12.6 9 M15.8 12.8 L19.4 8.6 M18.2 7 L20.2 9.6" stroke-width="0.7" stroke-opacity="0.9"/><ellipse cx="4.7" cy="9.6" rx="0.9" ry="1.5"/><ellipse cx="25.1" cy="9.6" rx="0.9" ry="1.5"/><circle cx="9.6" cy="17.6" r="1.3"/><circle cx="20.2" cy="17.6" r="1.3"/><rect x="12.4" y="16.6" width="5" height="2" rx="0.4" stroke-width="0.75"/><path d="M6.2 20 H23.6" stroke-width="0.7" stroke-opacity="0.85"/><path d="M6.9 21.6 V24 Q6.9 25 7.9 25 H10.7 Q11.7 25 11.7 24 V21.6 M18.2 21.6 V24 Q18.2 25 19.2 25 H22 Q23 25 23 24 V21.6"/></g>
<path d="M312.1 336.20000000000005 L323.1 336.20000000000005 L317.6 346.50000000000006Z" fill="#2a3843"/>
<rect x="303.2" y="307.1" width="106.2" height="29.6" rx="0.8" fill="#fff"/>
<rect x="303.2" y="307.1" width="30.1" height="29.6" fill="#2a3843"/>
<rect x="303.95" y="307.85" width="104.7" height="28.1" rx="0.5" fill="none" stroke="#131d28" stroke-width="1.5"/>
<text x="338.75" y="320.65" font-size="9.8" font-weight="700" fill="#131d28" stroke="#131d28" stroke-width="0.25" textLength="63.7" lengthAdjust="spacingAndGlyphs">Autostrada A2</text>
<text x="360.10" y="329.60" font-size="7" font-weight="700" fill="#131d28" stroke="#131d28" stroke-width="0.2" textLength="21" lengthAdjust="spacingAndGlyphs">8 min.</text>
<g transform="translate(303.2,307.6)" fill="none" stroke="#fff" stroke-width="1.1" stroke-linejoin="round" stroke-linecap="round"><path d="M6.4 12.6 L7.5 7.2 Q7.9 5.5 9.6 5.5 H20.6 Q22.3 5.5 22.7 7.2 L23.8 12.6"/><path d="M9.2 11.8 L9.9 8.1 H20.3 L21 11.8Z" stroke-width="0.8"/><path d="M10.6 11 L13.4 8.6 M12 11.2 L14.4 9.2" stroke-width="0.7" stroke-opacity="0.9"/><ellipse cx="4.9" cy="11" rx="0.9" ry="1.4"/><ellipse cx="25.3" cy="11" rx="0.9" ry="1.4"/><rect x="5" y="12.6" width="20.2" height="9.4" rx="2.2"/><path d="M7.7 19.2 V17 A2.1 2.1 0 0 1 11.9 17 V19.2 M18.3 19.2 V17 A2.1 2.1 0 0 1 22.5 17 V19.2" stroke-width="0.95"/><path d="M5.4 19.4 H24.8" stroke-width="0.95"/><path d="M13.4 15.6 H16.8 M13.4 17.4 H16.8" stroke-width="0.55" stroke-opacity="0.6"/><path d="M6.5 22 V23.8 Q6.5 24.6 7.3 24.6 H9.8 Q10.6 24.6 10.6 23.8 V22 M19.6 22 V23.8 Q19.6 24.6 20.4 24.6 H22.9 Q23.7 24.6 23.7 23.8 V22"/></g>
<rect x="0" y="492" width="615" height="3" fill="#fff"/>
</svg></body></html>
